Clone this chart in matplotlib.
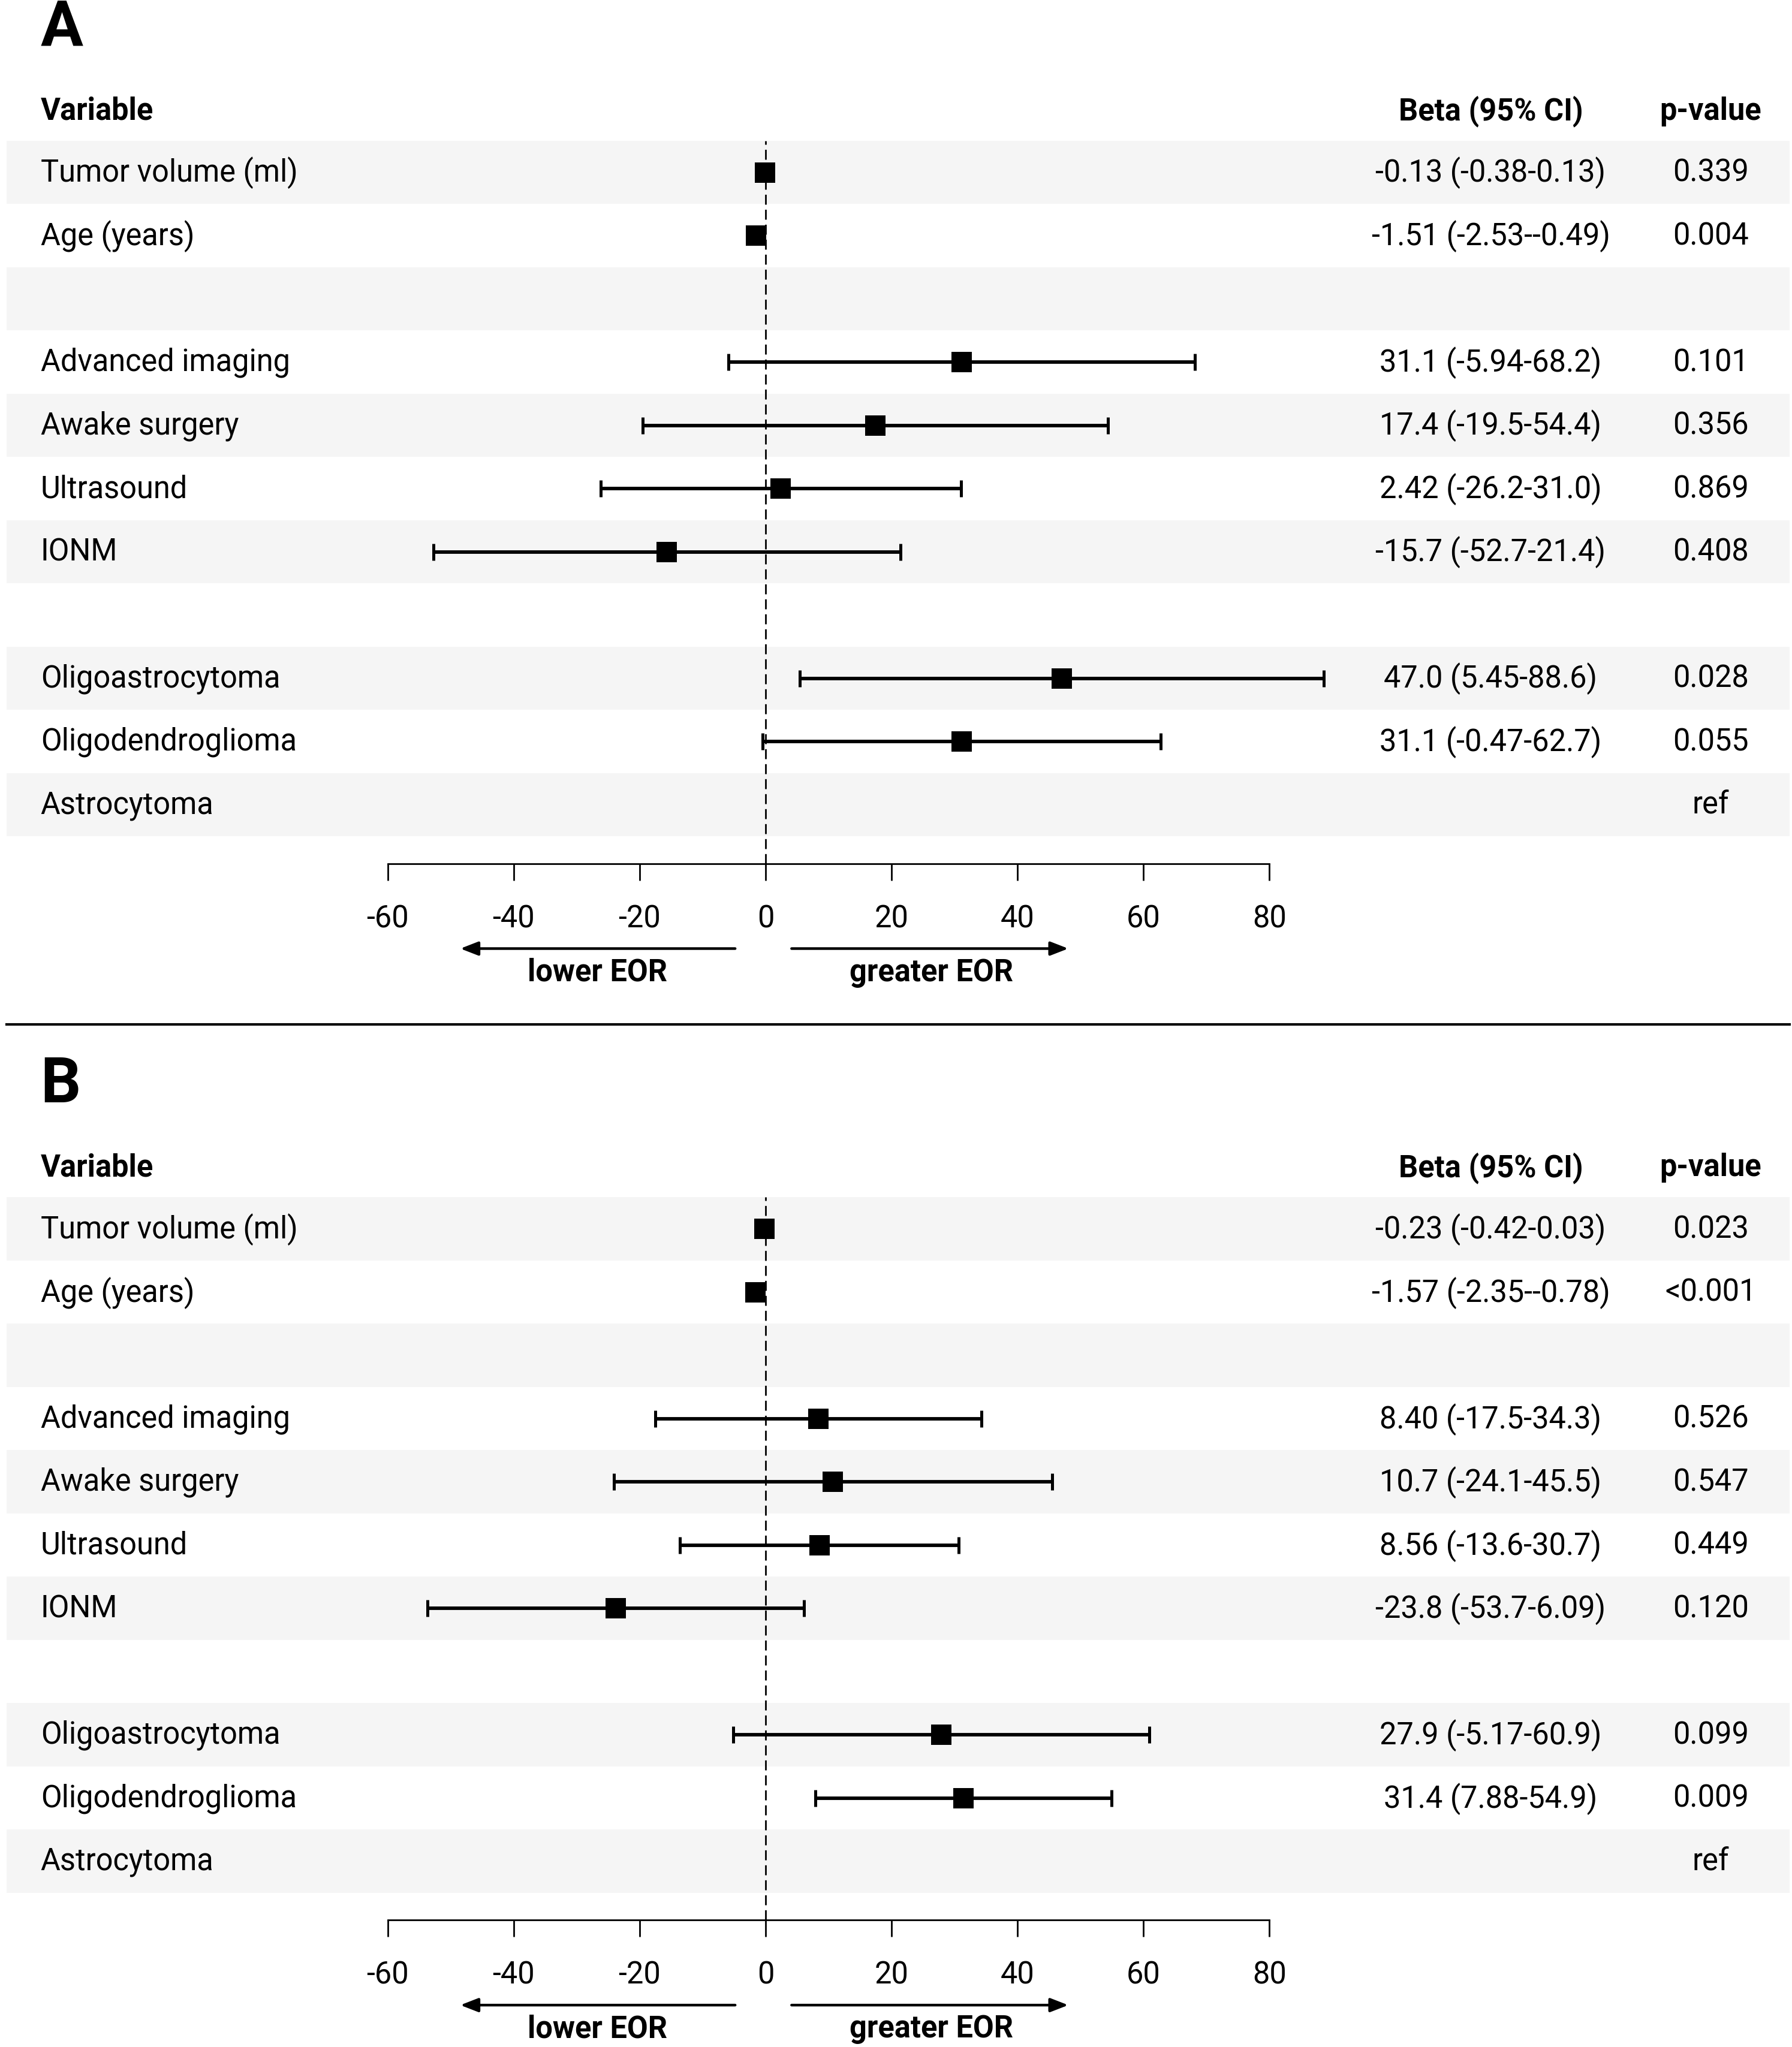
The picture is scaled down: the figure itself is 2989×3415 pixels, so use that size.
import numpy as np
import matplotlib
matplotlib.use("Agg")
import matplotlib.pyplot as plt

plt.rcParams['font.family'] = ['Roboto', 'DejaVu Sans']

# rows of the table (same for both panels)
variables = ["Tumor volume (ml)", "Age (years)", "", "Advanced imaging", "Awake surgery",
             "Ultrasound", "IONM", "", "Oligoastrocytoma", "Oligodendroglioma", "Astrocytoma"]
nan = np.nan

# panel A
beta_a = [-0.13, -1.51, nan, 31.1, 17.4, 2.42, -15.7, nan, 47.0, 31.1, nan]
lo_a = [-0.38, -2.53, nan, -5.94, -19.5, -26.2, -52.7, nan, 5.45, -0.47, nan]
hi_a = [0.13, -0.49, nan, 68.2, 54.4, 31.0, 21.4, nan, 88.6, 62.7, nan]
ci_a = ["-0.13 (-0.38-0.13)", "-1.51 (-2.53--0.49)", "", "31.1 (-5.94-68.2)", "17.4 (-19.5-54.4)",
        "2.42 (-26.2-31.0)", "-15.7 (-52.7-21.4)", "", "47.0 (5.45-88.6)", "31.1 (-0.47-62.7)", ""]
p_a = ["0.339", "0.004", "", "0.101", "0.356", "0.869", "0.408", "", "0.028", "0.055", "ref"]

# panel B
beta_b = [-0.23, -1.57, nan, 8.40, 10.7, 8.56, -23.8, nan, 27.9, 31.4, nan]
lo_b = [-0.42, -2.35, nan, -17.5, -24.1, -13.6, -53.7, nan, -5.17, 7.88, nan]
hi_b = [-0.03, -0.78, nan, 34.3, 45.5, 30.7, 6.09, nan, 60.9, 54.9, nan]
ci_b = ["-0.23 (-0.42-0.03)", "-1.57 (-2.35--0.78)", "", "8.40 (-17.5-34.3)", "10.7 (-24.1-45.5)",
        "8.56 (-13.6-30.7)", "-23.8 (-53.7-6.09)", "", "27.9 (-5.17-60.9)", "31.4 (7.88-54.9)", ""]
p_b = ["0.023", "<0.001", "", "0.526", "0.547", "0.449", "0.120", "", "0.099", "0.009", "ref"]

xticks = [-60, -40, -20, 0, 20, 40, 60, 80]

W, H = 1368.0, 1564.0  # layout reference grid
fig = plt.figure(figsize=(14.945, 17.08), dpi=200)

# x mapping: -60 -> 296, 80 -> 969 on the layout grid
scale = (969 - 296) / 140.0
zero = 296 + 60 * scale
def gx(px):
    return (px - zero) / scale

row_h = 48.3
FS = 18.2


def draw_panel(top, letter, beta, lo, hi, ci, p):
    bottom = top + 552
    ax = fig.add_axes([5 / W, 1 - bottom / H, (1366 - 5) / W, (bottom - top) / H])
    n = len(variables)
    ybot = -0.5 + (bottom - top) / row_h
    ax.set_xlim(gx(5), gx(1366))
    ax.set_ylim(ybot, -0.5)
    def gy(py):
        return (py - top) / row_h - 0.5

    # zebra stripes
    for i in range(0, n, 2):
        ax.axhspan(i - 0.5, i + 0.5, color="#f5f5f5", lw=0, zorder=0)
    ax.axvline(0, color="black", lw=1.0, ls=(0, (6, 3)), zorder=1)

    y = np.arange(n)
    beta = np.array(beta)
    lo = np.array(lo)
    hi = np.array(hi)
    ax.errorbar(beta, y, xerr=[beta - lo, hi - beta], fmt="none", ecolor="black",
                elinewidth=2.1, capsize=5, capthick=1.8, zorder=2)
    ax.plot(beta, y, "s", color="black", ms=12, mew=0, zorder=3)

    for i in range(n):
        ax.text(gx(31), i, variables[i], ha="left", va="center", fontsize=FS)
        ax.text(gx(1138), i, ci[i], ha="center", va="center", fontsize=FS)
        ax.text(gx(1306), i, p[i], ha="center", va="center", fontsize=FS)

    hy = gy(top - 23)
    ax.text(gx(31), hy, "Variable", ha="left", va="center", fontsize=FS, fontweight="bold", clip_on=False)
    ax.text(gx(1138), hy, "Beta (95% CI)", ha="center", va="center", fontsize=FS, fontweight="bold", clip_on=False)
    ax.text(gx(1306), hy, "p-value", ha="center", va="center", fontsize=FS, fontweight="bold", clip_on=False)
    ax.text(gx(31), gy(top - 86), letter, ha="left", va="center", fontsize=38, fontweight="bold", clip_on=False)

    for s in ["top", "left", "right"]:
        ax.spines[s].set_visible(False)
    ax.spines["bottom"].set_bounds(-60, 80)
    ax.spines["bottom"].set_linewidth(1.0)
    ax.set_yticks([])
    ax.set_xticks(xticks)
    ax.set_xticklabels([str(v) for v in xticks])
    ax.tick_params(axis="x", length=10, width=1.0, pad=14, labelsize=FS)

    # direction arrows under the axis
    ay = gy(top + 617)
    ax.annotate("", xy=(-49, ay), xytext=(-4.3, ay), annotation_clip=False,
                arrowprops=dict(arrowstyle="-|>,head_length=0.9,head_width=0.35", color="black", lw=1.6))
    ax.annotate("", xy=(48.6, ay), xytext=(3.6, ay), annotation_clip=False,
                arrowprops=dict(arrowstyle="-|>,head_length=0.9,head_width=0.35", color="black", lw=1.6))
    ty = gy(top + 635)
    ax.text(-26.7, ty, "lower EOR", ha="center", va="center", fontsize=FS, fontweight="bold", clip_on=False)
    ax.text(26.3, ty, "greater EOR", ha="center", va="center", fontsize=FS, fontweight="bold", clip_on=False)
    return ax


draw_panel(108, "A", beta_a, lo_a, hi_a, ci_a, p_a)
draw_panel(915, "B", beta_b, lo_b, hi_b, ci_b, p_b)

# separator between panels
fig.add_artist(plt.Line2D([5 / W, 1366 / W], [1 - 783 / H, 1 - 783 / H], color="black", lw=1.5))

fig.savefig("out.png", dpi=200, facecolor="white")
